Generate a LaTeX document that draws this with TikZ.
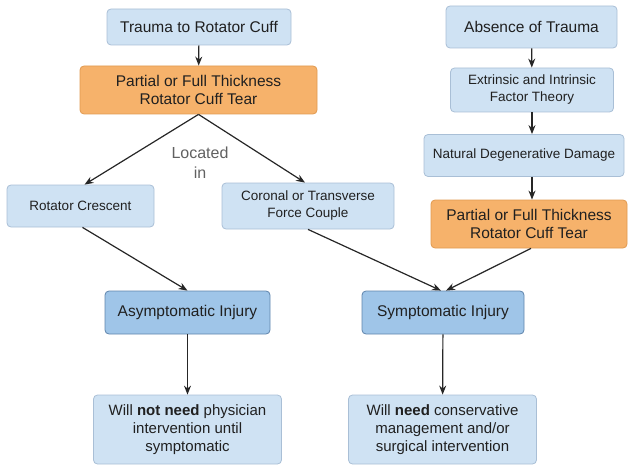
\documentclass[tikz,border=0pt]{standalone}
\usepackage{fontspec}
\setmainfont{Liberation Sans}
\usetikzlibrary{arrows.meta}
\definecolor{lbfill}{HTML}{CFE2F3}
\definecolor{lbdraw}{HTML}{A9BFD6}
\definecolor{dbfill}{HTML}{9FC5E8}
\definecolor{dbdraw}{HTML}{5F84AC}
\definecolor{orfill}{HTML}{F6B26B}
\definecolor{ordraw}{HTML}{E09A50}
\definecolor{txt}{HTML}{202020}
\tikzset{
  base/.style={rounded corners=4pt, line width=0.8pt, align=center, text=txt, inner sep=0pt},
  light/.style={base, fill=lbfill, draw=lbdraw},
  dark/.style={base, fill=dbfill, draw=dbdraw},
  orange/.style={base, fill=orfill, draw=ordraw},
  big/.style={font=\fontsize{15.5}{18}\selectfont},
  small/.style={font=\fontsize{13.5}{17}\selectfont},
  arr/.style={line width=1.2pt, draw=black!85, -{Stealth[length=9pt,width=7pt]}}
}
\begin{document}
\begin{tikzpicture}[x=1pt,y=-1pt]
\useasboundingbox (0,0) rectangle (631,465);
% left column
\node[light, big, minimum width=184pt, minimum height=36pt] (trauma) at (199,27) {Trauma to Rotator Cuff};
\node[orange, big, minimum width=237pt, minimum height=48pt] (tearL) at (198.5,90) {Partial or Full Thickness\\Rotator Cuff Tear};
\node[text=black!62, align=center, font=\fontsize{16}{20}\selectfont] (loc) at (200,163) {Located\\in};
\node[light, small, minimum width=147pt, minimum height=42pt] (cres) at (80.5,206) {Rotator Crescent};
\node[light, small, minimum width=172pt, minimum height=46pt] (coro) at (308,206) {Coronal or Transverse\\Force Couple};
% right column
\node[light, big, minimum width=171pt, minimum height=42pt] (absence) at (531.5,27) {Absence of Trauma};
\node[light, small, minimum width=163pt, minimum height=44pt] (extr) at (532,90) {Extrinsic and Intrinsic\\Factor Theory};
\node[light, small, minimum width=200pt, minimum height=42pt] (natur) at (524,155.5) {Natural Degenerative Damage};
\node[orange, big, minimum width=196pt, minimum height=48pt] (tearR) at (529,224) {Partial or Full Thickness\\Rotator Cuff Tear};
% injuries
\node[dark, big, minimum width=165pt, minimum height=43pt] (asym) at (187.5,312.5) {Asymptomatic Injury};
\node[dark, big, minimum width=162pt, minimum height=43pt] (symp) at (443,312.5) {Symptomatic Injury};
% outcomes
\node[light, font=\fontsize{15}{18}\selectfont, minimum width=188pt, minimum height=69pt] (notneed) at (187.5,429.5) {Will \textbf{not need} physician\\intervention until\\symptomatic};
\node[light, font=\fontsize{15}{18}\selectfont, minimum width=188pt, minimum height=69pt] (need) at (442.5,429.5) {Will \textbf{need} conservative\\management and/or\\surgical intervention};
% connectors
\draw[arr] (trauma) -- (tearL);
\draw[arr] (tearL.south) -- ([xshift=4pt]cres.north);
\draw[arr] (tearL.south) -- ([xshift=-3pt]coro.north);
\draw[arr] (absence) -- (extr);
\draw[arr] (extr) -- ([xshift=8pt]natur.north);
\draw[arr] ([xshift=8pt]natur.south) -- ([xshift=3pt]tearR.north);
\draw[arr] ([xshift=2pt]cres.south) -- (asym.north);
\draw[arr] (coro.south) -- ([xshift=-2pt]symp.north);
\draw[arr] ([xshift=2pt]tearR.south) -- ([xshift=3pt]symp.north);
\draw[arr] (asym) -- (notneed);
\draw[arr] (symp) -- (need);
\end{tikzpicture}
\end{document}
